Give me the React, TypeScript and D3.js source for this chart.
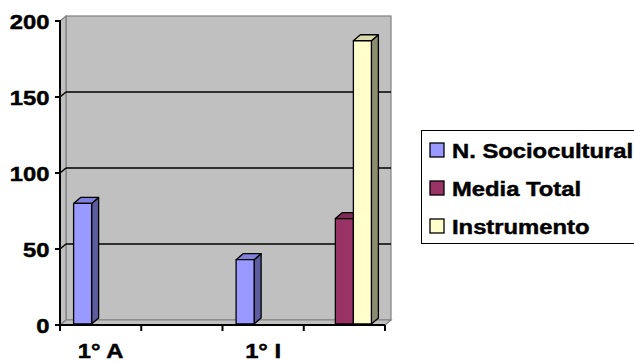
import React from "react";
import * as d3 from "d3";

// Category axis (only every other category shows its label)
const categories = ["1° A", "", "1° I", ""];
const seriesNames = ["N. Sociocultural", "Media Total", "Instrumento"];

// Series values per category (null = no bar)
const sociocultural: (number | null)[] = [80, null, 43, null];
const mediaTotal: (number | null)[] = [null, null, null, 70];
const instrumento: (number | null)[] = [null, null, null, 187];

const yTicks = [0, 50, 100, 150, 200];

const W = 634;
const H = 362;

const plot = { left: 60, right: 385, top: 21, bottom: 325 };
const depth = { dx: 6, dy: -5 };
const barDepth = { dx: 7, dy: -6 };

const palettes = [
  { front: "#9999ff", top: "#8080dd", side: "#5c5c9e" },
  { front: "#993366", top: "#7e2a54", side: "#5c1f3d" },
  { front: "#ffffcc", top: "#d9d9ad", side: "#8c8c70" },
];

const FONT = "'Liberation Sans', Arial, sans-serif";
const FS = 20;
const SX = 1.19;

function StretchText({ x, y, anchor, children }: { x: number; y: number; anchor: "start" | "middle" | "end"; children: React.ReactNode }) {
  return (
    <g transform={`translate(${x},${y}) scale(${SX},1)`}>
      <text
        x={0}
        y={0}
        textAnchor={anchor}
        fontFamily={FONT}
        fontWeight="bold"
        fontSize={FS}
        fill="#000"
        stroke="#000"
        strokeWidth={0.45}
      >
        {children}
      </text>
    </g>
  );
}

export default function App() {
  const y = d3.scaleLinear().domain([0, 200]).range([plot.bottom, plot.top]);
  const x = d3.scaleBand<number>().domain(d3.range(categories.length)).range([plot.left, plot.right]).padding(0);
  const inner = d3
    .scaleBand<number>()
    .domain(d3.range(seriesNames.length))
    .range([0, x.bandwidth()])
    .paddingInner(0)
    .paddingOuter(0.755);

  const data = [sociocultural, mediaTotal, instrumento];

  const wallL = plot.left + depth.dx;
  const wallR = plot.right + depth.dx;
  const wallTop = y(200) + depth.dy;
  const wallBottom = plot.bottom + depth.dy;

  const bars: React.ReactNode[] = [];
  categories.forEach((_, ci) => {
    data.forEach((vals, si) => {
      const v = vals[ci];
      if (v == null) return;
      const x0 = (x(ci) as number) + (inner(si) as number);
      const x1 = x0 + inner.bandwidth();
      const yb = plot.bottom - 1;
      const yt = y(v);
      const p = palettes[si];
      const { dx, dy } = barDepth;
      bars.push(
        <g key={`${ci}-${si}`} stroke="#000" strokeWidth={1.3} strokeLinejoin="round">
          <polygon points={`${x1},${yb} ${x1 + dx},${yb + dy} ${x1 + dx},${yt + dy} ${x1},${yt}`} fill={p.side} />
          <polygon points={`${x0},${yt} ${x0 + dx},${yt + dy} ${x1 + dx},${yt + dy} ${x1},${yt}`} fill={p.top} />
          <rect x={x0} y={yt} width={x1 - x0} height={yb - yt} fill={p.front} />
        </g>
      );
    });
  });

  return (
    <svg width={W} height={H} style={{ position: "absolute", left: 0, top: 0, background: "#fff" }}>
      {/* back wall */}
      <rect x={wallL} y={wallTop} width={wallR - wallL} height={wallBottom - wallTop} fill="#c0c0c0" stroke="#808080" strokeWidth={1.2} />
      {/* side wall */}
      <polygon
        points={`${plot.left},${y(200)} ${wallL},${wallTop} ${wallL},${wallBottom} ${plot.left},${plot.bottom}`}
        fill="#c0c0c0"
        stroke="#808080"
        strokeWidth={1.2}
      />
      {/* floor */}
      <polygon
        points={`${plot.left},${plot.bottom} ${wallL},${wallBottom} ${wallR},${wallBottom} ${plot.right},${plot.bottom}`}
        fill="#c0c0c0"
        stroke="#808080"
        strokeWidth={1.2}
      />
      {/* gridlines */}
      {yTicks
        .filter((t) => t > 0 && t < 200)
        .map((t) => (
          <g key={t} stroke="#000" strokeWidth={1.5}>
            <line x1={plot.left} y1={y(t)} x2={wallL} y2={y(t) + depth.dy} />
            <line x1={wallL} y1={y(t) + depth.dy} x2={wallR} y2={y(t) + depth.dy} />
          </g>
        ))}
      {bars}
      {/* axes */}
      <line x1={plot.left} y1={y(200) - 1} x2={plot.left} y2={plot.bottom} stroke="#000" strokeWidth={2} />
      <line x1={plot.left - 5} y1={plot.bottom} x2={plot.right} y2={plot.bottom} stroke="#000" strokeWidth={2} />
      {yTicks.map((t) => (
        <g key={t}>
          <line x1={plot.left - 5} y1={y(t)} x2={plot.left} y2={y(t)} stroke="#000" strokeWidth={2} />
          <StretchText x={plot.left - 10.5} y={y(t) + 7.5} anchor="end">
            {t}
          </StretchText>
        </g>
      ))}
      {d3.range(categories.length + 1).map((i) => {
        const xx = i < categories.length ? (x(i) as number) : plot.right;
        return <line key={i} x1={xx} y1={plot.bottom} x2={xx} y2={plot.bottom + 6} stroke="#000" strokeWidth={2} />;
      })}
      {categories.map((c, i) =>
        c ? (
          <StretchText key={i} x={(x(i) as number) + x.bandwidth() / 2} y={357.5} anchor="middle">
            {c}
          </StretchText>
        ) : null
      )}
      {/* legend */}
      <rect x={421.5} y={130.5} width={240} height={113} fill="#fff" stroke="#000" strokeWidth={1} />
      {seriesNames.map((name, i) => {
        const ly = 143 + i * 38;
        return (
          <g key={name}>
            <rect x={430} y={ly} width={14} height={14} fill={palettes[i].front} stroke="#000" strokeWidth={1.3} />
            <StretchText x={452} y={ly + 14.5} anchor="start">
              {name}
            </StretchText>
          </g>
        );
      })}
    </svg>
  );
}
